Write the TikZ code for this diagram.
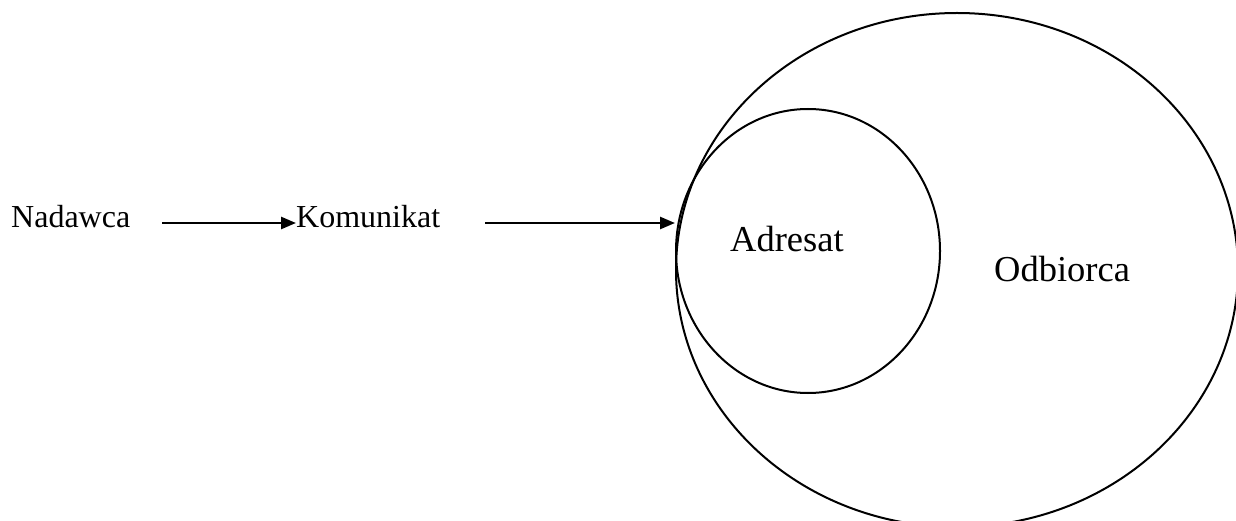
\documentclass[tikz,border=0pt]{standalone}
\usepackage{fontspec}
\setmainfont{Liberation Serif}
\usetikzlibrary{arrows.meta,shapes.geometric}
\begin{document}
\begin{tikzpicture}[x=1pt,y=-1pt,
  lbl/.style={inner sep=0pt,anchor=base west,font=\fontsize{32}{36}\selectfont},
  biglbl/.style={inner sep=0pt,anchor=base west,font=\fontsize{36.5}{40}\selectfont},
  circ/.style={draw,line width=2pt,ellipse,inner sep=0pt},
  conn/.style={line width=2.6pt,-{Triangle[length=15pt,width=12pt]}}]
\useasboundingbox (0,0) rectangle (1236,521);
\node[circ,minimum width=562pt,minimum height=514pt] (odb) at (957,270) {};
\node[circ,minimum width=264pt,minimum height=284pt] (adr) at (808,251) {};
\node[lbl] (nad) at (11,228) {Nadawca};
\node[lbl] (kom) at (296,228) {Komunikat};
\node[biglbl] (adrt) at (730,252) {Adresat};
\node[biglbl] (odbt) at (994,281) {Odbiorca};
\coordinate (a1s) at (162,223);
\coordinate (a2s) at (485,223);
\coordinate (a2e) at (675,223);
\draw[conn] (a1s) -- (kom.west |- a1s);
\draw[conn] (a2s) -- (a2e);
\end{tikzpicture}
\end{document}
